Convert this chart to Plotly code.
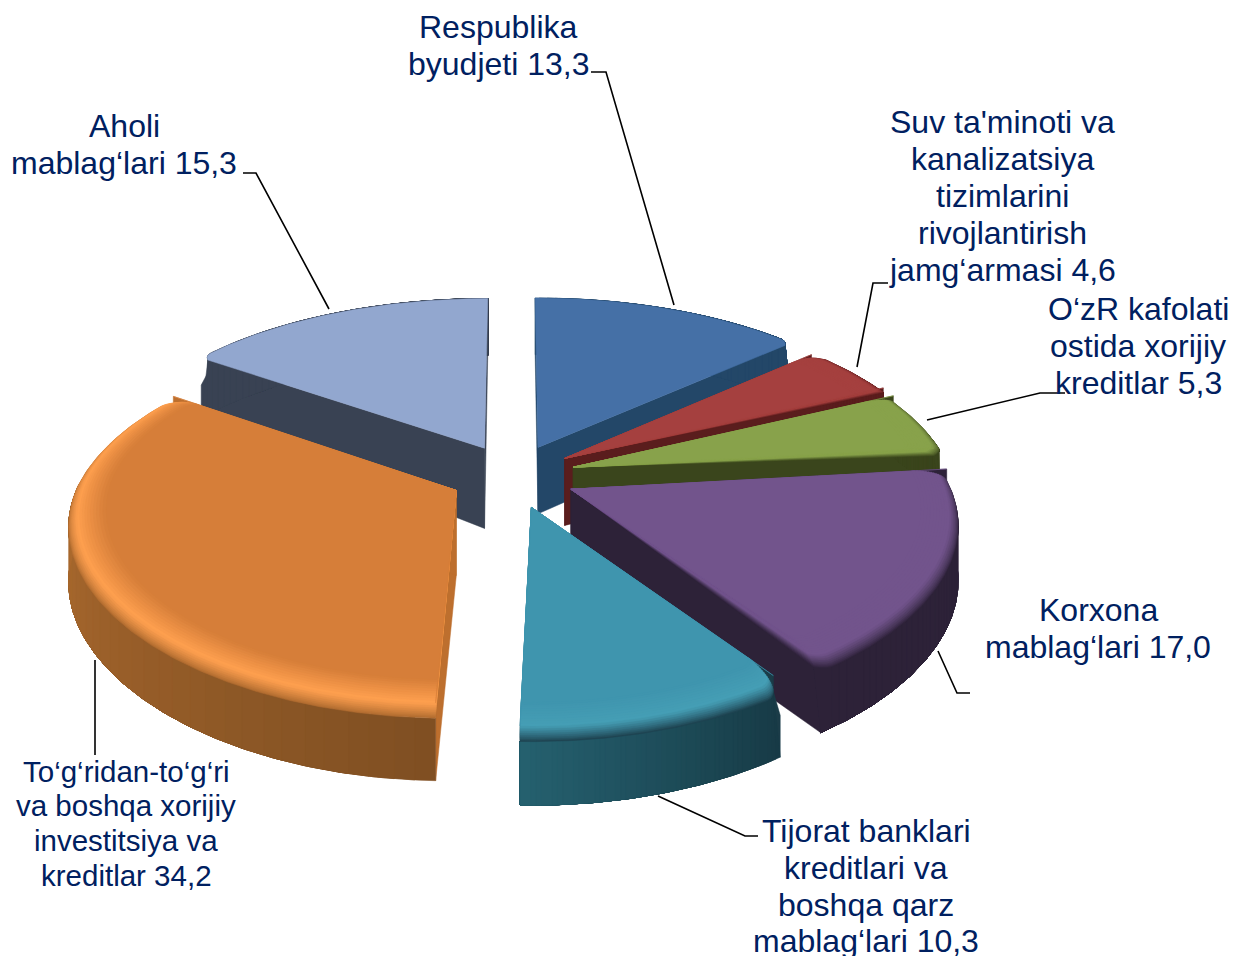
import math
import plotly.graph_objects as go

# ---------- data ----------
categories = ["Respublika byudjeti", "Suv ta'minoti va kanalizatsiya tizimlarini rivojlantirish jamg‘armasi",
              "O‘zR kafolati ostida xorijiy kreditlar", "Korxona mablag‘lari",
              "Tijorat banklari kreditlari va boshqa qarz mablag‘lari",
              "To‘g‘ridan-to‘g‘ri va boshqa xorijiy investitsiya va kreditlar", "Aholi mablag‘lari"]
values = [13.3, 4.6, 5.3, 17.0, 10.3, 34.2, 15.3]
label_lines = [
    ["Respublika", "byudjeti 13,3"],
    ["Suv ta'minoti va", "kanalizatsiya", "tizimlarini", "rivojlantirish", "jamg‘armasi 4,6"],
    ["O‘zR kafolati", "ostida xorijiy", "kreditlar 5,3"],
    ["Korxona", "mablag‘lari 17,0"],
    ["Tijorat banklari", "kreditlari va", "boshqa qarz", "mablag‘lari 10,3"],
    ["To‘g‘ridan-to‘g‘ri", "va boshqa xorijiy", "investitsiya va", "kreditlar 34,2"],
    ["Aholi", "mablag‘lari 15,3"],
]

# ---------- style ----------
top_col = ["#4570A6", "#A5403F", "#88A24B", "#72548C", "#3F95AE", "#D67E39", "#92A7CF"]
rim_col = ["#4570A6", "#A5403F", "#88A24B", "#72548C", "#459EB5", "#FFA04F", "#92A7CF"]
wall_a = ["#234768", "#5A1D1D", "#3A451C", "#2D2238", "#173A45", "#7F4F22", "#394253"]  # curved wall at slice start
wall_b = ["#234768", "#5A1D1D", "#3A451C", "#2D2238", "#25606F", "#BC7433", "#394253"]  # at slice end
cut_col = ["#234768", "#5A1D1D", "#3A451C", "#2D2238", "#1B3C48", "#BD6F2E", "#394253"]
rim_end = ["#234768", "#5A1D1D", "#3A451C", "#2D2238", "#1C3E4B", "#AD6A2F", "#394253"]
bevel = [0, 5, 8, 13, 13, 13, 0]
round_start = [0, 1, 0, 0, 1, 0, 1]
round_end = [1, 0, 1, 1, 0, 1, 0]
apex_depth = [68, 68, 68, 66, 66, 84, 82]
text_col = "#002060"
paint_order = [0, 6, 1, 2, 3, 5, 4]

label_pos = [
    (498, [27, 64]),
    (1002, [122, 159, 196, 233, 270]),
    (1138, [309, 346, 383]),
    (1098, [610, 647]),
    (866, [831, 868, 905, 941]),
    (126, [771, 805, 840, 875]),
    (124, [126, 163]),
]
label_size = [32, 32, 32, 32, 32, 29.5, 32]
leaders = [
    [(591, 72), (606, 72), (674, 305)],
    [(888, 283), (873, 283), (857, 367)],
    [(1065, 393), (1040, 393), (927, 420)],
    [(970, 693), (957, 693), (938, 651)],
    [(758, 836), (745, 836), (658, 796)],
    [(95, 660), (95, 755)],
    [(243, 173), (256, 173), (329, 309)],
]

# ---------- projection ----------
CX, CY = 513, 476
A, B = 381, 178
PX_BACK, PX_FRONT, PY = 0.13, 0.11, 0.141
EX, EY = 0.165, 0.18
DEPTH = 66


def proj(x, y, drop=0.0):
    sx = 1 / (1 - (PX_FRONT if y > 0 else PX_BACK) * y)
    sy = 1 / (1 - PY * y)
    return CX + A * x * sx, CY + B * y * sy + drop * sy


def hex2rgb(c):
    return tuple(int(c[i:i + 2], 16) for i in (1, 3, 5))


def mix(c1, c2, t):
    a, b = hex2rgb(c1), hex2rgb(c2)
    return "rgb(%d,%d,%d)" % tuple(round(a[i] + (b[i] - a[i]) * t) for i in range(3))


fig = go.Figure()


def poly(pts, color):
    fig.add_trace(go.Scatter(
        x=[p[0] for p in pts] + [pts[0][0]], y=[p[1] for p in pts] + [pts[0][1]],
        mode="lines", fill="toself", fillcolor=color,
        line=dict(color=color, width=0.5), hoverinfo="skip", showlegend=False))


total = sum(values)
starts, c = [], 0.0
for v in values:
    starts.append(c / total * 2 * math.pi)
    c += v
ends = starts[1:] + [2 * math.pi]

for i in paint_order:
    t1, t2 = starts[i], ends[i]
    mid = (t1 + t2) / 2
    ox, oy = EX * math.sin(mid), -EY * math.cos(mid)

    def edge(th):
        e = 1.0
        if round_start[i]:
            e = min(e, 1 - 0.025 * max(0.0, 1 - (th - t1) / 0.04) ** 2)
        if round_end[i]:
            e = min(e, 1 - 0.025 * max(0.0, 1 - (t2 - th) / 0.04) ** 2)
        return e

    def P(r, th, d=0.0):
        rr = r * edge(th)
        return proj(ox + rr * math.sin(th), oy - rr * math.cos(th), d)

    def Q(r, th, d=0.0):
        return proj(ox + r * math.sin(th), oy - r * math.cos(th), d)

    n = max(12, int((t2 - t1) / 0.012))
    ths = [t1 + (t2 - t1) * k / n for k in range(n + 1)]

    # flat cut walls
    for th in (t1, t2):
        poly([P(0, th), P(1, th), P(1, th, 14), Q(1, th, 30), Q(1, th, DEPTH), Q(0, th, apex_depth[i])], cut_col[i])
    # curved wall: each step paints everything still ahead, so no seams appear
    m = 40
    for k in range(m):
        tail = ths[k * n // m:]
        c_ = mix(wall_a[i], wall_b[i], (k + 0.5) / m)
        poly([P(1, th, bevel[i]) for th in tail] + [Q(1, th, DEPTH) for th in reversed(tail)], c_)
    # bevel painted outside-in, then the flat top
    if bevel[i]:
        steps = 18
        rin = 0.905
        for s in range(steps, 0, -1):
            a2 = s / steps * math.pi / 2
            r2 = rin + (1 - rin) * math.sin(a2)
            d2 = bevel[i] * (1 - math.cos(a2))
            f = (s - 0.5) / steps
            if f < 0.55:
                col = mix(top_col[i], rim_col[i], f / 0.55)
            else:
                col = mix(rim_col[i], rim_end[i], (f - 0.55) / 0.45)
            poly([P(0, t1)] + [P(r2, th, d2) for th in ths], col)
        poly([P(0, t1), P(1, t1)] + [P(rin, th) for th in ths] + [P(1, t2)], top_col[i])
    else:
        poly([P(0, t1)] + [P(1, th) for th in ths], top_col[i])

# ---------- leaders ----------
for pts in leaders:
    fig.add_trace(go.Scatter(x=[p[0] for p in pts], y=[p[1] for p in pts], mode="lines",
                             line=dict(color="black", width=1.6), hoverinfo="skip", showlegend=False))

# ---------- labels ----------
ann = []
for lines, (cx, ys), size in zip(label_lines, label_pos, label_size):
    for line, y in zip(lines, ys):
        ann.append(dict(x=cx, y=y, text=line, showarrow=False, xanchor="center", yanchor="middle",
                        font=dict(family="Liberation Sans, Arial, sans-serif", size=size, color=text_col)))

fig.update_layout(
    width=1233, height=956, margin=dict(l=0, r=0, t=0, b=0),
    paper_bgcolor="white", plot_bgcolor="white", showlegend=False, annotations=ann,
    xaxis=dict(range=[0, 1233], visible=False, fixedrange=True),
    yaxis=dict(range=[956, 0], visible=False, fixedrange=True),
)
fig.write_html("out.html", config={"displayModeBar": False},
               post_script="document.body.style.margin='0';document.documentElement.style.overflow='hidden';")
